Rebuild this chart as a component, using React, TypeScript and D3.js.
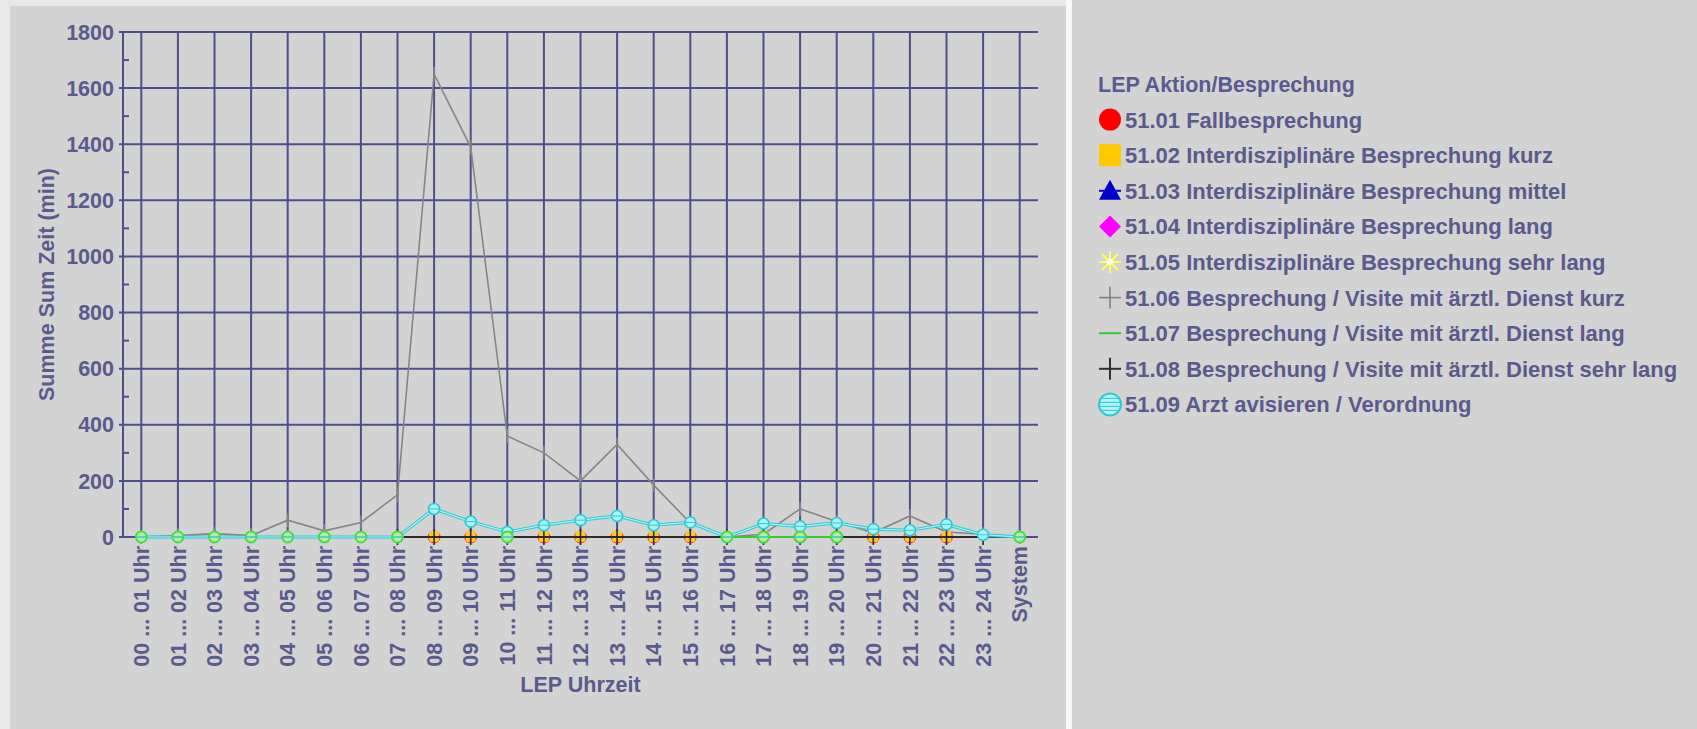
import React from "react";
import * as d3 from "d3";

const W = 1697;
const H = 729;

const categories = [
  "00 ... 01 Uhr", "01 ... 02 Uhr", "02 ... 03 Uhr", "03 ... 04 Uhr", "04 ... 05 Uhr",
  "05 ... 06 Uhr", "06 ... 07 Uhr", "07 ... 08 Uhr", "08 ... 09 Uhr", "09 ... 10 Uhr",
  "10 ... 11 Uhr", "11 ... 12 Uhr", "12 ... 13 Uhr", "13 ... 14 Uhr", "14 ... 15 Uhr",
  "15 ... 16 Uhr", "16 ... 17 Uhr", "17 ... 18 Uhr", "18 ... 19 Uhr", "19 ... 20 Uhr",
  "20 ... 21 Uhr", "21 ... 22 Uhr", "22 ... 23 Uhr", "23 ... 24 Uhr", "System",
];

const yMajorTicks = [0, 200, 400, 600, 800, 1000, 1200, 1400, 1600, 1800];
const yMinorTicks = [100, 300, 500, 700, 900, 1100, 1300, 1500, 1700];

const N = null;
const s0101 = [N, N, N, N, N, N, N, N, 0, 0, N, 0, 0, 0, 0, 0, N, 0, 0, 0, 0, 0, 0, N, N];
const s0102 = [N, N, N, N, N, N, N, N, 0, 0, N, 0, 0, 0, 0, 0, N, 0, 0, 0, 0, 0, 0, N, N];
const s0103 = [N, N, N, N, N, N, N, N, N, N, N, N, N, N, N, N, N, N, N, N, N, N, N, N, N];
const s0104 = [N, N, N, N, N, N, N, N, N, N, N, N, N, N, N, N, N, N, N, N, N, N, N, N, N];
const s0105 = [N, N, N, N, N, N, N, N, N, N, N, N, N, N, N, N, N, N, N, N, N, N, N, N, N];
const s0106 = [0, 5, 12, 5, 60, 22, 52, 150, 1650, 1390, 360, 300, 200, 330, 185, 50, 0, 10, 100, 55, 15, 75, 18, 10, 0];
const s0107 = [0, 0, 0, 0, 0, 0, 0, 0, N, N, 0, N, N, N, N, N, 0, 0, 0, 0, N, N, N, N, 0];
const s0108 = [N, N, N, N, N, N, N, 0, 0, 0, 0, 0, 0, 0, 0, 0, 0, 0, 0, 0, 0, 0, 0, 0, N];
const s0109 = [0, 0, 0, 0, 0, 0, 0, 0, 100, 55, 18, 42, 60, 75, 42, 52, 0, 48, 38, 50, 28, 24, 45, 8, 0];

const legendTitle = "LEP Aktion/Besprechung";
const seriesNames = [
  "51.01 Fallbesprechung",
  "51.02 Interdisziplinäre Besprechung kurz",
  "51.03 Interdisziplinäre Besprechung mittel",
  "51.04 Interdisziplinäre Besprechung lang",
  "51.05 Interdisziplinäre Besprechung sehr lang",
  "51.06 Besprechung / Visite mit ärztl. Dienst kurz",
  "51.07 Besprechung / Visite mit ärztl. Dienst lang",
  "51.08 Besprechung / Visite mit ärztl. Dienst sehr lang",
  "51.09 Arzt avisieren / Verordnung",
];
const yTitle = "Summe Sum Zeit (min)";
const xTitle = "LEP Uhrzeit";

const TEXT = "#5a5a8e";
const GRID = "#4e4e8c";
const FONT = "'Liberation Sans', Arial, sans-serif";
const FS = 21.5;

const PL = 123, PR = 1038, PT = 32, PB = 537;

const x = d3.scalePoint<string>().domain(categories).range([PL, PR]).padding(0.5);
const y = d3.scaleLinear().domain([0, 1800]).range([PB, PT]);

type Pt = { c: string; v: number | null };
const toPts = (arr: (number | null)[]): Pt[] => categories.map((c, i) => ({ c, v: arr[i] }));

const lineGen = d3
  .line<Pt>()
  .defined((d) => d.v !== null)
  .x((d) => x(d.c) as number)
  .y((d) => y(d.v as number));

function Starburst({ cx, cy, r, color }: { cx: number; cy: number; r: number; color: string }) {
  const angles = [0, 45, 90, 135];
  return (
    <g>
      {angles.map((a) => {
        const rad = (a * Math.PI) / 180;
        return (
          <line key={a} x1={cx - r * Math.cos(rad)} y1={cy - r * Math.sin(rad)} x2={cx + r * Math.cos(rad)} y2={cy + r * Math.sin(rad)} stroke={color} strokeWidth={2} />
        );
      })}
      <circle cx={cx} cy={cy} r={r * 0.3} fill="#fffbe0" />
    </g>
  );
}

function LegendIcon({ i, cx, cy }: { i: number; cx: number; cy: number }) {
  const r = 11;
  switch (i) {
    case 0:
      return <circle cx={cx} cy={cy} r={r} fill="#ff0000" />;
    case 1:
      return <rect x={cx - r} y={cy - r} width={2 * r} height={2 * r} fill="#ffc800" />;
    case 2:
      return (
        <g>
          <polygon points={`${cx},${cy - r} ${cx + r},${cy + r - 2} ${cx - r},${cy + r - 2}`} fill="#0000cc" />
          <line x1={cx - r} x2={cx + r} y1={cy} y2={cy} stroke="#0000cc" strokeWidth={2} />
        </g>
      );
    case 3:
      return <polygon points={`${cx},${cy - r} ${cx + r},${cy} ${cx},${cy + r} ${cx - r},${cy}`} fill="#ff00ff" />;
    case 4:
      return <Starburst cx={cx} cy={cy} r={r} color="#ffff55" />;
    case 5:
      return (
        <g stroke="#808080" strokeWidth={1.6}>
          <line x1={cx - r} x2={cx + r} y1={cy} y2={cy} />
          <line x1={cx} x2={cx} y1={cy - r} y2={cy + r} />
        </g>
      );
    case 6:
      return <line x1={cx - r} x2={cx + r} y1={cy} y2={cy} stroke="#33cc33" strokeWidth={2} />;
    case 7:
      return (
        <g stroke="#303030" strokeWidth={2}>
          <line x1={cx - r} x2={cx + r} y1={cy} y2={cy} />
          <line x1={cx} x2={cx} y1={cy - r} y2={cy + r} />
        </g>
      );
    case 8:
      return (
        <g>
          <ellipse cx={cx} cy={cy} rx={r} ry={r} fill="#b0f4f4" stroke="#30c8d8" strokeWidth={2} />
          {[-6, -2, 2, 6].map((d) => (
            <line key={d} x1={cx - Math.sqrt(r * r - d * d)} x2={cx + Math.sqrt(r * r - d * d)} y1={cy + d} y2={cy + d} stroke="#30c8d8" strokeWidth={1} />
          ))}
        </g>
      );
    default:
      return null;
  }
}

export default function App() {
  const p01 = toPts(s0101);
  const p02 = toPts(s0102);
  const p06 = toPts(s0106);
  const p07 = toPts(s0107);
  const p08 = toPts(s0108);
  const p09 = toPts(s0109);
  const def = (p: Pt[]) => p.filter((d) => d.v !== null);

  const legendX = 1110;
  const legendTextX = 1125;
  const legendTitleY = 92;
  const legendStep = 35.6;

  return (
    <svg width={W} height={H} style={{ position: "absolute", left: 0, top: 0 }} fontFamily={FONT} fontWeight="bold">
      <rect x={0} y={0} width={W} height={H} fill="#e8e8e8" />
      <rect x={10} y={6} width={1056} height={H - 6} fill="#d3d3d3" />
      <rect x={1066} y={0} width={6} height={H} fill="#f8f8f8" />
      <rect x={1072} y={0} width={W - 1072} height={H} fill="#d3d3d3" />

      {yMajorTicks.map((t) => (
        <line key={"h" + t} x1={PL - 4} x2={PR} y1={y(t)} y2={y(t)} stroke={GRID} strokeWidth={2} />
      ))}
      {categories.map((c) => (
        <line key={"v" + c} x1={x(c)} x2={x(c)} y1={PT} y2={PB + 2} stroke={GRID} strokeWidth={2} />
      ))}
      <line x1={PL} x2={PL} y1={PT} y2={PB} stroke={GRID} strokeWidth={2} />
      {yMinorTicks.map((t) => (
        <line key={"m" + t} x1={PL} x2={PL + 6} y1={y(t)} y2={y(t)} stroke={GRID} strokeWidth={2} />
      ))}

      {yMajorTicks.map((t) => (
        <text key={"yl" + t} x={PL - 9} y={y(t) + 7.7} textAnchor="end" fontSize={FS} fill={TEXT}>
          {t}
        </text>
      ))}
      <text transform={`translate(${54},${(PT + PB) / 2}) rotate(-90)`} textAnchor="middle" fontSize={FS} fill={TEXT}>
        {yTitle}
      </text>

      {categories.map((c) => (
        <text key={"xl" + c} transform={`translate(${(x(c) as number) + 7.7},${546}) rotate(-90)`} textAnchor="end" fontSize={FS} fill={TEXT}>
          {c}
        </text>
      ))}
      <text x={(PL + PR) / 2} y={692} textAnchor="middle" fontSize={FS} fill={TEXT}>
        {xTitle}
      </text>

      {/* 51.06 gray */}
      <path d={lineGen(p06) || ""} fill="none" stroke="#868686" strokeWidth={1.6} />
      {def(p06).map((d) => (
        <line key={"g" + d.c} x1={x(d.c)} x2={x(d.c)} y1={y(d.v as number) - 7} y2={y(d.v as number) + 7} stroke="#868686" strokeWidth={1.6} />
      ))}

      {/* 51.01 red */}
      {def(p01).map((d) => (
        <circle key={"r" + d.c} cx={x(d.c)} cy={y(d.v as number)} r={6.5} fill="#ff4010" />
      ))}
      {/* 51.02 orange */}
      {def(p02).map((d) => (
        <rect key={"o" + d.c} x={(x(d.c) as number) - 5} y={y(d.v as number) - 6} width={10} height={11} rx={3} fill="#ffc828" />
      ))}

      {/* 51.08 black */}
      <path d={lineGen(p08) || ""} fill="none" stroke="#2a2a2a" strokeWidth={2} />
      {def(p08).map((d) => (
        <line key={"b" + d.c} x1={x(d.c)} x2={x(d.c)} y1={y(d.v as number) - 8} y2={y(d.v as number) + 8} stroke="#2a2a2a" strokeWidth={1.6} />
      ))}

      {/* 51.07 green line */}
      <path d={lineGen(p07) || ""} fill="none" stroke="#33cc33" strokeWidth={2} />

      {/* 51.09 cyan */}
      <path d={lineGen(p09) || ""} fill="none" stroke="#30c8d8" strokeWidth={3.2} />
      <path d={lineGen(p09) || ""} fill="none" stroke="#a8f4f4" strokeWidth={1.2} />
      {def(p09)
        .filter((d) => (d.v as number) > 0)
        .map((d) => (
          <g key={"c" + d.c}>
            <circle cx={x(d.c)} cy={y(d.v as number)} r={5.5} fill="#a8f4f4" stroke="#30c8d8" strokeWidth={1.6} />
            <line x1={(x(d.c) as number) - 5} x2={(x(d.c) as number) + 5} y1={y(d.v as number)} y2={y(d.v as number)} stroke="#30c8d8" strokeWidth={1} />
          </g>
        ))}

      {/* 51.07 green markers on top */}
      {def(p07).map((d) => (
        <g key={"gr" + d.c}>
          <circle cx={x(d.c)} cy={y(d.v as number)} r={5.5} fill="#b8eea0" stroke="#44dd44" strokeWidth={2} />
          <line x1={(x(d.c) as number) - 5} x2={(x(d.c) as number) + 5} y1={y(d.v as number)} y2={y(d.v as number)} stroke="#30c8d8" strokeWidth={1.5} />
        </g>
      ))}

      {/* legend */}
      <text x={1098} y={legendTitleY} fontSize={FS} fill={TEXT}>
        {legendTitle}
      </text>
      {seriesNames.map((n, i) => {
        const by = legendTitleY + (i + 1) * legendStep;
        return (
          <g key={n}>
            <LegendIcon i={i} cx={legendX} cy={by - 8} />
            <text x={legendTextX} y={by} fontSize={22} fill={TEXT}>
              {n}
            </text>
          </g>
        );
      })}
    </svg>
  );
}
